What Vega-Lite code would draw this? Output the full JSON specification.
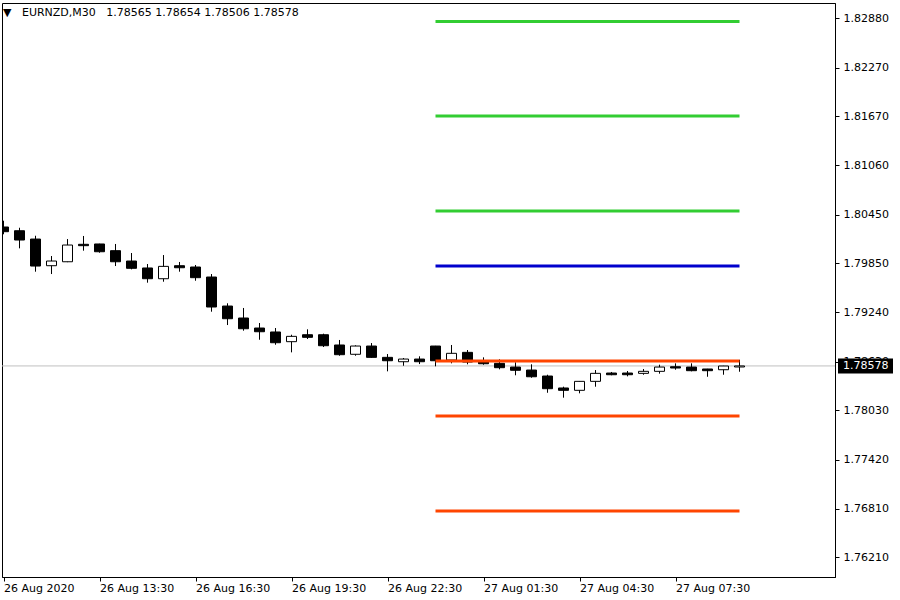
{
  "$schema": "https://vega.github.io/schema/vega-lite/v6.json",
  "width": 833,
  "height": 574,
  "autosize": {"type": "none"},
  "padding": {"left": 2, "top": 3, "right": 65, "bottom": 23},
  "background": "white",
  "view": {"stroke": "black", "strokeWidth": 1},
  "config": {
    "font": "DejaVu Sans",
    "axis": {"labelFont": "DejaVu Sans", "labelFontSize": 11, "labelColor": "black", "domainColor": "black", "tickColor": "black", "grid": false, "labelFlush": false, "labelOverlap": false, "tickSize": 4, "title": null}
  },
  "title": {
    "text": "▼\u00a0\u00a0\u00a0EURNZD,M30\u00a0\u00a0\u00a01.78565 1.78654 1.78506 1.78578",
    "anchor": "start",
    "frame": "group",
    "offset": -24,
    "baseline": "alphabetic",
    "fontSize": 11,
    "fontWeight": "normal",
    "font": "DejaVu Sans",
    "color": "black",
    "dx": 1
  },
  "datasets": {
    "candles": [
      {"t": "2020-08-26T10:30:00Z", "o": 1.80297, "h": 1.80375, "l": 1.80207, "c": 1.80239},
      {"t": "2020-08-26T11:00:00Z", "o": 1.80251, "h": 1.80288, "l": 1.80033, "c": 1.80136},
      {"t": "2020-08-26T11:30:00Z", "o": 1.80148, "h": 1.80189, "l": 1.79744, "c": 1.79814},
      {"t": "2020-08-26T12:00:00Z", "o": 1.79818, "h": 1.79938, "l": 1.79715, "c": 1.79876},
      {"t": "2020-08-26T12:30:00Z", "o": 1.79867, "h": 1.80148, "l": 1.79862, "c": 1.80074},
      {"t": "2020-08-26T13:00:00Z", "o": 1.80083, "h": 1.80186, "l": 1.80004, "c": 1.80066},
      {"t": "2020-08-26T13:30:00Z", "o": 1.80087, "h": 1.80090, "l": 1.79979, "c": 1.79991},
      {"t": "2020-08-26T14:00:00Z", "o": 1.80004, "h": 1.80087, "l": 1.79814, "c": 1.79867},
      {"t": "2020-08-26T14:30:00Z", "o": 1.79876, "h": 1.79975, "l": 1.79773, "c": 1.79786},
      {"t": "2020-08-26T15:00:00Z", "o": 1.79790, "h": 1.79839, "l": 1.79608, "c": 1.79657},
      {"t": "2020-08-26T15:30:00Z", "o": 1.79657, "h": 1.79950, "l": 1.79620, "c": 1.79810},
      {"t": "2020-08-26T16:00:00Z", "o": 1.79818, "h": 1.79864, "l": 1.79744, "c": 1.79793},
      {"t": "2020-08-26T16:30:00Z", "o": 1.79802, "h": 1.79827, "l": 1.79632, "c": 1.79670},
      {"t": "2020-08-26T17:00:00Z", "o": 1.79678, "h": 1.79715, "l": 1.79249, "c": 1.79307},
      {"t": "2020-08-26T17:30:00Z", "o": 1.79319, "h": 1.79353, "l": 1.79084, "c": 1.79162},
      {"t": "2020-08-26T18:00:00Z", "o": 1.79171, "h": 1.79295, "l": 1.79014, "c": 1.79038},
      {"t": "2020-08-26T18:30:00Z", "o": 1.79047, "h": 1.79109, "l": 1.78902, "c": 1.79001},
      {"t": "2020-08-26T19:00:00Z", "o": 1.78998, "h": 1.79047, "l": 1.78840, "c": 1.78865},
      {"t": "2020-08-26T19:30:00Z", "o": 1.78878, "h": 1.78964, "l": 1.78746, "c": 1.78944},
      {"t": "2020-08-26T20:00:00Z", "o": 1.78964, "h": 1.79031, "l": 1.78911, "c": 1.78932},
      {"t": "2020-08-26T20:30:00Z", "o": 1.78964, "h": 1.78977, "l": 1.78812, "c": 1.78828},
      {"t": "2020-08-26T21:00:00Z", "o": 1.78837, "h": 1.78899, "l": 1.78704, "c": 1.78717},
      {"t": "2020-08-26T21:30:00Z", "o": 1.78722, "h": 1.78833, "l": 1.78704, "c": 1.78824},
      {"t": "2020-08-26T22:00:00Z", "o": 1.78824, "h": 1.78861, "l": 1.78680, "c": 1.78684},
      {"t": "2020-08-26T22:30:00Z", "o": 1.78684, "h": 1.78725, "l": 1.78511, "c": 1.78642},
      {"t": "2020-08-26T23:00:00Z", "o": 1.78630, "h": 1.78676, "l": 1.78580, "c": 1.78663},
      {"t": "2020-08-26T23:30:00Z", "o": 1.78663, "h": 1.78697, "l": 1.78601, "c": 1.78630},
      {"t": "2020-08-27T00:00:00Z", "o": 1.78824, "h": 1.78826, "l": 1.78573, "c": 1.78642},
      {"t": "2020-08-27T00:30:00Z", "o": 1.78651, "h": 1.78837, "l": 1.78610, "c": 1.78734},
      {"t": "2020-08-27T01:00:00Z", "o": 1.78746, "h": 1.78775, "l": 1.78598, "c": 1.78626},
      {"t": "2020-08-27T01:30:00Z", "o": 1.78639, "h": 1.78684, "l": 1.78593, "c": 1.78605},
      {"t": "2020-08-27T02:00:00Z", "o": 1.78610, "h": 1.78660, "l": 1.78536, "c": 1.78556},
      {"t": "2020-08-27T02:30:00Z", "o": 1.78564, "h": 1.78623, "l": 1.78462, "c": 1.78524},
      {"t": "2020-08-27T03:00:00Z", "o": 1.78527, "h": 1.78598, "l": 1.78432, "c": 1.78444},
      {"t": "2020-08-27T03:30:00Z", "o": 1.78453, "h": 1.78469, "l": 1.78246, "c": 1.78296},
      {"t": "2020-08-27T04:00:00Z", "o": 1.78305, "h": 1.78321, "l": 1.78185, "c": 1.78276},
      {"t": "2020-08-27T04:30:00Z", "o": 1.78276, "h": 1.78389, "l": 1.78239, "c": 1.78387},
      {"t": "2020-08-27T05:00:00Z", "o": 1.78387, "h": 1.78527, "l": 1.78321, "c": 1.78486},
      {"t": "2020-08-27T05:30:00Z", "o": 1.78490, "h": 1.78503, "l": 1.78462, "c": 1.78469},
      {"t": "2020-08-27T06:00:00Z", "o": 1.78490, "h": 1.78515, "l": 1.78449, "c": 1.78469},
      {"t": "2020-08-27T06:30:00Z", "o": 1.78486, "h": 1.78540, "l": 1.78469, "c": 1.78511},
      {"t": "2020-08-27T07:00:00Z", "o": 1.78511, "h": 1.78593, "l": 1.78482, "c": 1.78564},
      {"t": "2020-08-27T07:30:00Z", "o": 1.78568, "h": 1.78610, "l": 1.78531, "c": 1.78552},
      {"t": "2020-08-27T08:00:00Z", "o": 1.78564, "h": 1.78610, "l": 1.78511, "c": 1.78519},
      {"t": "2020-08-27T08:30:00Z", "o": 1.78540, "h": 1.78542, "l": 1.78444, "c": 1.78519},
      {"t": "2020-08-27T09:00:00Z", "o": 1.78531, "h": 1.78579, "l": 1.78469, "c": 1.78577},
      {"t": "2020-08-27T09:30:00Z", "o": 1.78565, "h": 1.78654, "l": 1.78506, "c": 1.78578}
    ],
    "pivots": [
      {"level": "R3", "price": 1.82840, "start": "2020-08-27T00:00:00Z", "end": "2020-08-27T09:30:00Z"},
      {"level": "R2", "price": 1.81671, "start": "2020-08-27T00:00:00Z", "end": "2020-08-27T09:30:00Z"},
      {"level": "R1", "price": 1.80495, "start": "2020-08-27T00:00:00Z", "end": "2020-08-27T09:30:00Z"},
      {"level": "P", "price": 1.79814, "start": "2020-08-27T00:00:00Z", "end": "2020-08-27T09:30:00Z"},
      {"level": "S1", "price": 1.78639, "start": "2020-08-27T00:00:00Z", "end": "2020-08-27T09:30:00Z"},
      {"level": "S2", "price": 1.77958, "start": "2020-08-27T00:00:00Z", "end": "2020-08-27T09:30:00Z"},
      {"level": "S3", "price": 1.76782, "start": "2020-08-27T00:00:00Z", "end": "2020-08-27T09:30:00Z"}
    ],
    "last": [{"price": 1.78578, "label": "1.78578"}]
  },
  "layer": [
    {
      "data": {"name": "last"},
      "mark": {"type": "rule", "color": "#c0c0c0", "strokeWidth": 1},
      "encoding": {
        "y": {
          "field": "price", "type": "quantitative", "title": null,
          "scale": {"domain": [1.75966, 1.83069], "zero": false, "nice": false, "padding": 0},
          "axis": {
            "orient": "right",
            "values": [1.7621, 1.7681, 1.7742, 1.7803, 1.7863, 1.7924, 1.7985, 1.8045, 1.8106, 1.8167, 1.8227, 1.8288],
            "format": ".5f",
            "labelPadding": 4
          }
        }
      }
    },
    {
      "data": {"name": "candles"},
      "mark": {"type": "rule", "color": "black", "strokeWidth": 1, "clip": true},
      "encoding": {
        "x": {
          "field": "t", "type": "temporal", "title": null,
          "scale": {
            "type": "utc", "nice": false, "padding": 0,
            "domain": [
              {"year": 2020, "month": 8, "date": 26, "hours": 10, "minutes": 27, "seconds": 11, "milliseconds": 250, "utc": true},
              {"year": 2020, "month": 8, "date": 27, "hours": 12, "minutes": 29, "seconds": 3, "milliseconds": 750, "utc": true}
            ]
          },
          "axis": {
            "values": [
              {"year": 2020, "month": 8, "date": 26, "hours": 10, "minutes": 30, "utc": true},
              {"year": 2020, "month": 8, "date": 26, "hours": 13, "minutes": 30, "utc": true},
              {"year": 2020, "month": 8, "date": 26, "hours": 16, "minutes": 30, "utc": true},
              {"year": 2020, "month": 8, "date": 26, "hours": 19, "minutes": 30, "utc": true},
              {"year": 2020, "month": 8, "date": 26, "hours": 22, "minutes": 30, "utc": true},
              {"year": 2020, "month": 8, "date": 27, "hours": 1, "minutes": 30, "utc": true},
              {"year": 2020, "month": 8, "date": 27, "hours": 4, "minutes": 30, "utc": true},
              {"year": 2020, "month": 8, "date": 27, "hours": 7, "minutes": 30, "utc": true}
            ],
            "labelExpr": "utcFormat(datum.value, '%d %H:%M') == '26 10:30' ? '26 Aug 2020' : utcFormat(datum.value, '%d %b %H:%M')",
            "labelAlign": "left",
            "labelPadding": 1
          }
        },
        "y": {"field": "l", "type": "quantitative", "title": null},
        "y2": {"field": "h"}
      }
    },
    {
      "data": {"name": "candles"},
      "mark": {"type": "bar", "width": 10, "stroke": "black", "strokeWidth": 1, "clip": true},
      "encoding": {
        "x": {"field": "t", "type": "temporal", "title": null},
        "y": {"field": "o", "type": "quantitative", "title": null},
        "y2": {"field": "c"},
        "fill": {"condition": {"test": "datum.c > datum.o", "value": "white"}, "value": "black"}
      }
    },
    {
      "data": {"name": "pivots"},
      "mark": {"type": "rule", "strokeWidth": 3},
      "encoding": {
        "x": {"field": "start", "type": "temporal", "title": null},
        "x2": {"field": "end"},
        "y": {"field": "price", "type": "quantitative", "title": null},
        "color": {
          "field": "level", "type": "nominal", "legend": null,
          "scale": {"domain": ["R3", "R2", "R1", "P", "S1", "S2", "S3"], "range": ["#32cd32", "#32cd32", "#32cd32", "#0000cd", "#ff4500", "#ff4500", "#ff4500"]}
        }
      }
    },
    {
      "data": {"name": "last"},
      "mark": {"type": "point", "shape": "M0.3,-0.75H5.8V0.75H0.3Z", "size": 400, "filled": true, "fill": "black", "opacity": 1, "strokeWidth": 0},
      "encoding": {
        "x": {"value": "width"},
        "y": {"field": "price", "type": "quantitative", "title": null}
      }
    },
    {
      "data": {"name": "last"},
      "mark": {"type": "text", "align": "left", "baseline": "middle", "dx": 8, "color": "white", "fontSize": 11, "font": "DejaVu Sans"},
      "encoding": {
        "x": {"value": "width"},
        "y": {"field": "price", "type": "quantitative", "title": null},
        "text": {"field": "label"}
      }
    }
  ]
}
